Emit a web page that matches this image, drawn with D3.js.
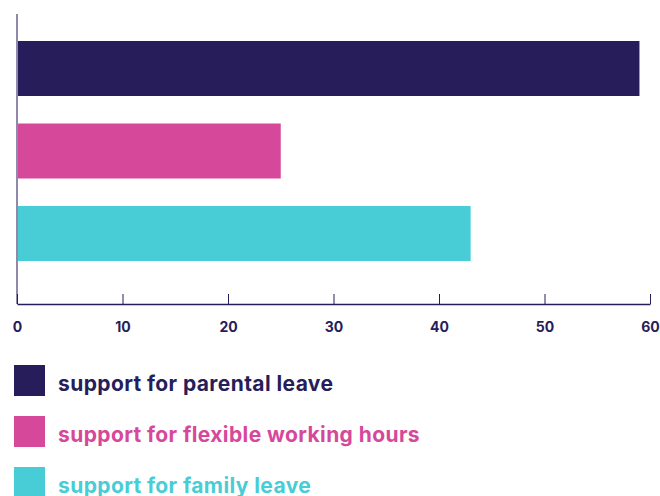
<!DOCTYPE html>
<html>
<head>
<meta charset="utf-8">
<script src="https://cdn.jsdelivr.net/npm/d3@7"></script>
<style>
  html, body { margin: 0; padding: 0; background: #fff; }
  svg { display: block; font-family: Inter, "Noto Sans", sans-serif; }
</style>
</head>
<body>
<svg id="chart" width="660" height="496"></svg>
<script>
// Share of respondents per kind of support
const categories = ["support for parental leave", "support for flexible working hours", "support for family leave"];
const values = [59, 25, 43];
const colors = ["#261d5a", "#d6489a", "#48cdd6"];
const xTicks = [0, 10, 20, 30, 40, 50, 60];

const svg = d3.select("#chart");

const x = d3.scaleLinear().domain([0, 60]).range([17, 650]);
const y = d3.scaleBand().domain(categories).range([27.25, 274.75])
  .paddingInner(1 / 3).paddingOuter(1 / 6);

const axisY = 304;

// bars
svg.append("g").selectAll("rect").data(categories).join("rect")
  .attr("x", x(0))
  .attr("y", d => y(d))
  .attr("width", (d, i) => x(values[i]) - x(0))
  .attr("height", y.bandwidth())
  .attr("fill", (d, i) => colors[i]);

// vertical baseline
svg.append("line")
  .attr("x1", x(0)).attr("x2", x(0))
  .attr("y1", 14).attr("y2", axisY)
  .attr("stroke", "#8e8aab").attr("stroke-width", 2);

// x axis
const xAxis = d3.axisBottom(x).tickValues(xTicks).tickSize(-10).tickPadding(0).tickSizeOuter(0);
const gx = svg.append("g").attr("transform", `translate(0,${axisY})`).call(xAxis);
gx.select(".domain").attr("stroke", "#261d5a").attr("stroke-width", 1.5);
gx.selectAll(".tick line").attr("stroke", "#261d5a").attr("stroke-width", 1);
gx.selectAll(".tick text")
  .attr("y", 18)
  .attr("fill", "#261d5a")
  .attr("font-size", 14)
  .attr("font-weight", 700)
  .attr("font-family", "Inter, 'Noto Sans', sans-serif");

// legend
const legend = svg.append("g").selectAll("g").data(categories).join("g")
  .attr("transform", (d, i) => `translate(14,${365 + i * 51})`);
legend.append("rect")
  .attr("width", 31).attr("height", 31)
  .attr("fill", (d, i) => colors[i]);
legend.append("text")
  .attr("x", 44).attr("y", 26)
  .attr("fill", (d, i) => colors[i])
  .attr("font-size", 21)
  .attr("font-weight", 700)
  .attr("letter-spacing", 0.4)
  .text(d => d);
</script>
</body>
</html>
